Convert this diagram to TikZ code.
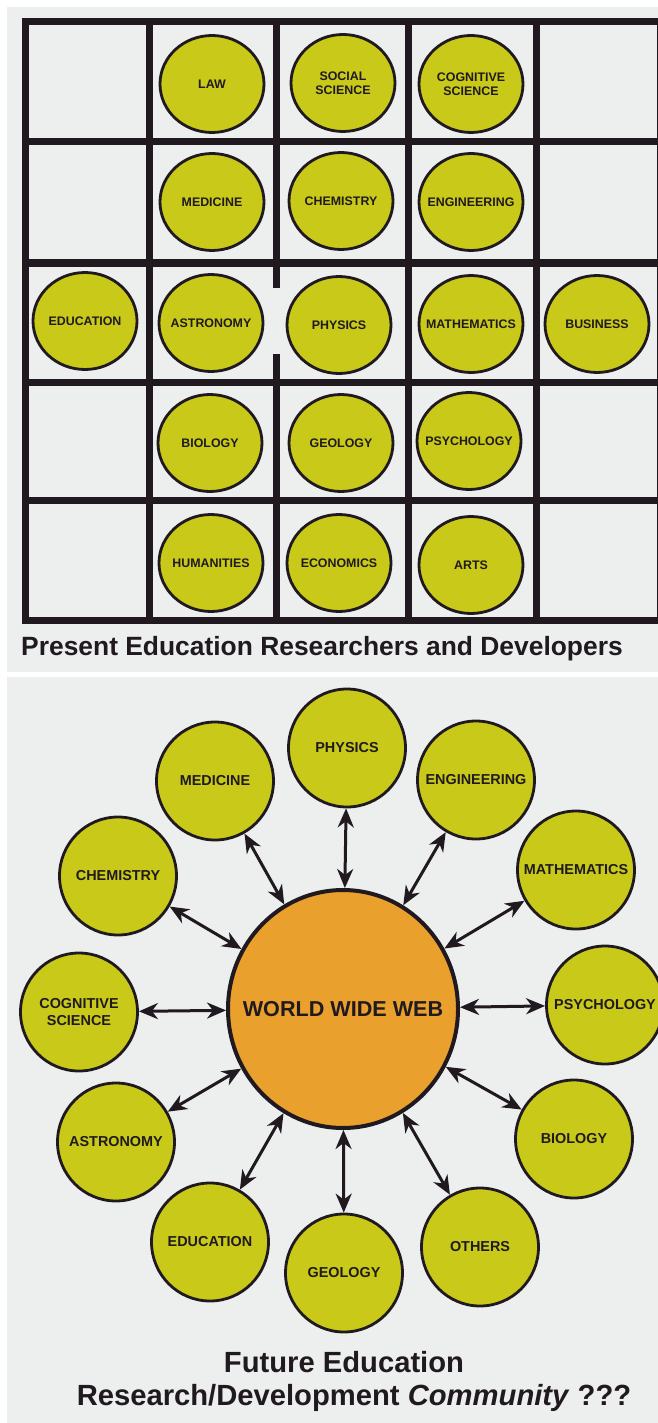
\documentclass[tikz,border=0pt]{standalone}
\usepackage{fontspec}
\setmainfont{Liberation Sans}
\usetikzlibrary{shapes.geometric,arrows.meta}
\definecolor{paper}{RGB}{236,239,238}
\definecolor{leaf}{RGB}{200,201,24}
\definecolor{amber}{RGB}{233,160,44}
\definecolor{ink}{RGB}{32,26,32}
\begin{document}
\begin{tikzpicture}[x = 0.5pt, y = -0.5pt,
    field/.style = {ellipse, draw = ink, line width = 1.4pt, fill = leaf,
      minimum width = 52pt, minimum height = 48.5pt, inner xsep = -10pt, inner ysep = 0pt,
      align = center, text = ink, font = \fontsize{6.2}{7.2}\selectfont\bfseries},
    sat/.style = {field, minimum width = 58.5pt, minimum height = 59pt,
      font = \fontsize{7.2}{8.4}\selectfont\bfseries},
    hub/.style = {ellipse, draw = ink, line width = 2pt, fill = amber, text = ink,
      minimum width = 115pt, minimum height = 119pt, inner xsep = -12pt, inner ysep = 0pt,
      font = \fontsize{10.8}{12}\selectfont\bfseries},
    wall/.style = {draw = ink, line width = 3.5pt, line cap = rect},
    link/.style = {draw = ink, line width = 1.5pt, <->,
      >= {Stealth[length = 9.5pt, width = 8pt, inset = 3pt]}},
    caption/.style = {text = ink, inner sep = 0pt}]
  \useasboundingbox (0, 0) rectangle (658, 1423);
  % paper
  \fill [paper] (7, 7) rectangle (658, 672);
  \fill [paper] (7, 677) rectangle (658, 1423);

  % grid: columns
  \draw [wall] (25, 22) -- (25, 620);
  \draw [wall] (149, 22) -- (149, 620);
  \draw [wall] (276, 22) -- (276, 284);
  \draw [wall] (276, 357) -- (276, 620);
  \draw [wall] (408, 22) -- (408, 620);
  \draw [wall] (536, 22) -- (536, 620);
  \draw [wall] (660, 22) -- (660, 620);
  % grid: rows
  \draw [wall] (25, 22) -- (660, 22);
  \draw [wall] (25, 142) -- (660, 142);
  \draw [wall] (25, 263) -- (660, 263);
  \draw [wall] (25, 382) -- (660, 382);
  \draw [wall] (25, 500) -- (660, 500);
  \draw [wall] (25, 620) -- (660, 620);

  % disciplines, one per room
  \node [field] (law) at (212, 84) {LAW};
  \node [field] (socsci) at (343, 83) {SOCIAL\\SCIENCE};
  \node [field] (cogsci) at (471, 84) {COGNITIVE\\SCIENCE};
  \node [field] (med) at (212, 202) {MEDICINE};
  \node [field] (chem) at (341, 201) {CHEMISTRY};
  \node [field] (eng) at (471, 202) {ENGINEERING};
  \node [field] (edu) at (85, 321) {EDUCATION};
  \node [field] (astro) at (211, 323) {ASTRONOMY};
  \node [field] (phys) at (339, 325) {PHYSICS};
  \node [field] (math) at (471, 324) {MATHEMATICS};
  \node [field] (bus) at (597, 324) {BUSINESS};
  \node [field] (bio) at (210, 443) {BIOLOGY};
  \node [field] (geo) at (341, 443) {GEOLOGY};
  \node [field] (psy) at (469, 441) {PSYCHOLOGY};
  \node [field] (hum) at (211, 563) {HUMANITIES};
  \node [field] (econ) at (339, 563) {ECONOMICS};
  \node [field] (arts) at (471, 565) {ARTS};
  \node [caption, font = \fontsize{13.2}{15}\selectfont\bfseries] (present) at (322, 649)
    {Present Education Researchers and Developers};

  % the web and its community
  \node [hub] (web) at (343, 1009) {WORLD WIDE WEB};
  \node [sat] (wphys) at (347, 748) {PHYSICS};
  \node [sat] (wmed) at (215, 781) {MEDICINE};
  \node [sat] (weng) at (476, 780) {ENGINEERING};
  \node [sat] (wchem) at (118, 876) {CHEMISTRY};
  \node [sat] (wmath) at (576, 870) {MATHEMATICS};
  \node [sat] (wcog) at (79, 1012) {COGNITIVE\\SCIENCE};
  \node [sat] (wpsy) at (605, 1005) {PSYCHOLOGY};
  \node [sat] (wastro) at (116, 1142) {ASTRONOMY};
  \node [sat] (wbio) at (574, 1139) {BIOLOGY};
  \node [sat] (wedu) at (210, 1242) {EDUCATION};
  \node [sat] (wgeo) at (344, 1273) {GEOLOGY};
  \node [sat] (woth) at (480, 1247) {OTHERS};
  % links
  \draw [link] (web) -- (wphys);
  \draw [link] (web) -- (wmed);
  \draw [link] (web) -- (weng);
  \draw [link] (web) -- (wchem);
  \draw [link] (web) -- (wmath);
  \draw [link] (web) -- (wcog);
  \draw [link] (web) -- (wpsy);
  \draw [link] (web) -- (wastro);
  \draw [link] (web) -- (wbio);
  \draw [link] (web) -- (wedu);
  \draw [link] (web) -- (wgeo);
  \draw [link] (web) -- (woth);
  \node [caption, font = \fontsize{14.6}{17}\selectfont\bfseries] (future) at (344, 1362)
    {Future Education};
  \node [caption, font = \fontsize{14.6}{17}\selectfont\bfseries] (community) at (354, 1398)
    {Research/Development \textit{Community} ???};
\end{tikzpicture}
\end{document}
